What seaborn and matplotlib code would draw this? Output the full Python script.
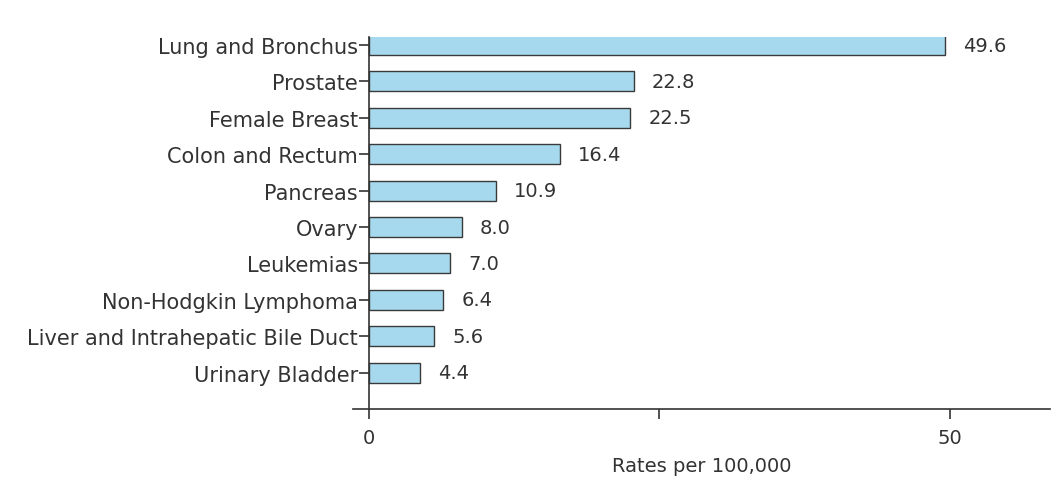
import pandas as pd
import seaborn as sns
import matplotlib.pyplot as plt

# Cancer death rates per 100,000
sites = ['Lung and Bronchus', 'Prostate', 'Female Breast', 'Colon and Rectum',
         'Pancreas', 'Ovary', 'Leukemias', 'Non-Hodgkin Lymphoma',
         'Liver and Intrahepatic Bile Duct', 'Urinary Bladder']
rates = [49.6, 22.8, 22.5, 16.4, 10.9, 8.0, 7.0, 6.4, 5.6, 4.4]
rate_labels = ['49.6', '22.8', '22.5', '16.4', '10.9', '8.0', '7.0', '6.4', '5.6', '4.4']

df = pd.DataFrame({'Site': sites, 'Rate': rates})

sns.set_style('white')
plt.rcParams['font.family'] = ['DejaVu Sans']

fig = plt.figure(figsize=(10.53, 4.85), dpi=100)
ax = fig.add_axes([0.335, 0.1546, 0.662, 0.767])

sns.barplot(data=df, x='Rate', y='Site', color='#a6d8ee', edgecolor='#3a3a3a',
            linewidth=1.0, width=0.55, saturation=1, ax=ax)

ax.bar_label(ax.containers[0], labels=rate_labels, padding=13,
             fontsize=14, color='#333333')

ax.set_xlim(-1.4, 58.6)
ax.set_ylim(10, -0.22)
ax.set_xticks([0, 25, 50])
ax.set_xticklabels(['0', '', '50'])
ax.set_xlabel('Rates per 100,000', fontsize=14, color='#333333', labelpad=6)
ax.set_ylabel('')

for side in ['top', 'right']:
    ax.spines[side].set_visible(False)
for side in ['left', 'bottom']:
    ax.spines[side].set_color('#333333')
    ax.spines[side].set_linewidth(1.2)
ax.spines['left'].set_position(('data', 0))

ax.tick_params(axis='both', which='both', direction='out', length=7, width=1.2,
               color='#333333', labelcolor='#333333', labelsize=14,
               bottom=True, left=True)
ax.tick_params(axis='x', pad=7)
ax.tick_params(axis='y', pad=1, labelsize=15)

fig.savefig('out.png', dpi=100)
